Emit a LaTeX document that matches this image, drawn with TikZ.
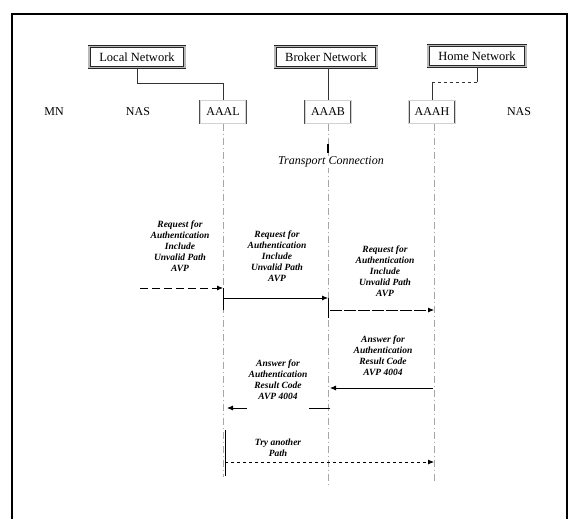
\documentclass[tikz,border=0pt]{standalone}
\usepackage{fontspec}
\setmainfont{Liberation Serif}
\usetikzlibrary{arrows.meta}
\begin{document}
\begin{tikzpicture}[x=1pt,y=-1pt,
  netbox/.style={draw=black!85, double=gray!55, double distance=1.8pt, line width=0.5pt,
     fill=white, inner xsep=10pt, minimum height=21pt, font=\fontsize{12.5}{14}\selectfont},
  aaabox/.style={draw=black!70, double=gray!35, double distance=1pt, line width=0.4pt,
     fill=white, minimum width=44pt, minimum height=23pt, inner xsep=6pt,
     font=\fontsize{12}{14}\selectfont},
  plain/.style={font=\fontsize{12}{14}\selectfont},
  life/.style={draw=gray!70, line width=0.8pt, dash pattern=on 7pt off 3pt on 1pt off 3pt},
  link/.style={draw=black!80, line width=0.6pt},
  msg/.style={font=\fontsize{9.5}{11}\selectfont\itshape\bfseries, align=center, fill=white, inner sep=1pt},
  arr/.style={line width=0.8pt, -{Latex[length=6pt,width=5pt]}},
]
\useasboundingbox (0,0) rectangle (568,519);
% frame
\draw[line width=1.6pt] (12,519) -- (12,14) -- (567,14) -- (567,519);

% headers
\node[netbox] (LN) at (137,57) {Local Network};
\node[netbox] (BN) at (326,57) {Broker Network};
\node[netbox] (HN) at (477,56) {Home Network};

\node[plain] (MN) at (54,112) {MN};
\node[plain] (NAS1) at (138,112) {NAS};
\node[aaabox] (AAAL) at (223,112) {AAAL};
\node[aaabox] (AAAB) at (328,112) {AAAB};
\node[aaabox] (AAAH) at (432,112) {AAAH};
\node[plain] (NAS2) at (519,112) {NAS};

% tree links
\coordinate (lk1) at (137,83);
\draw[link] (LN.south -| lk1) -- (lk1) -- (lk1 -| AAAL.north) -- (AAAL.north);
\draw[link] (BN.south -| AAAB.north) -- (AAAB.north);
\coordinate (lk3) at (477,82);
\draw[link] (HN.south -| lk3) -- (lk3);
\draw[link, dashed] (lk3) -- (lk3 -| AAAH.north);
\draw[link] (lk3 -| AAAH.north) -- (AAAH.north);

% lifelines
\coordinate (endL) at (223,477);
\coordinate (endB) at (328,487);
\coordinate (endH) at (434,483);
\draw[life] (AAAL.south) -- (endL);
\draw[life] (AAAB.south) -- (endB);
\draw[life] (AAAH.south -| endH) -- (endH);

% transport connection
\coordinate (tk1) at (328,144);
\coordinate (tk2) at (328,153);
\draw[line width=1.2pt] (tk1) -- (tk2);
\node[font=\fontsize{12}{14}\selectfont\itshape, fill=white, inner sep=1pt] (TC) at (331,162) {Transport Connection};

% message 1
\coordinate (m1s) at (140,288);
\node[msg] (t1) at (180,246) {Request for\\Authentication\\Include\\Unvalid Path\\AVP};
\draw[arr, dash pattern=on 8pt off 4pt] (m1s) -- (m1s -| AAAL);

% message 2
\coordinate (m2) at (223,298);
\node[msg] (t2) at (277,256) {Request for\\Authentication\\Include\\Unvalid Path\\AVP};
\draw[line width=1pt] (223,288) -- (223,310);
\draw[arr] (m2) -- (m2 -| AAAB);

% message 3
\coordinate (m3) at (330,310);
\node[msg] (t3) at (385,271) {Request for\\Authentication\\Include\\Unvalid Path\\AVP};
\draw[line width=1pt] (328,298) -- (328,318);
\draw[arr, dash pattern=on 12pt off 2pt] (m3) -- (m3 -| endH);

% message 4
\coordinate (m4) at (433,388);
\node[msg] (t4) at (383,356) {Answer for\\Authentication\\Result Code\\AVP 4004};
\draw[arr] (m4) -- ([xshift=2pt]m4 -| AAAB);

% message 5
\coordinate (m5) at (330,408);
\draw[arr] (m5) -- ([xshift=4pt]m5 -| AAAL);
\node[msg, inner xsep=2pt, inner ysep=2pt, anchor=north] (t5) at (278,358) {Answer for\\Authentication\\Result Code\\AVP 4004\\[-4pt]\strut};

% message 6
\coordinate (m6) at (225,462);
\node[msg] (t6) at (278,448) {Try another\\Path};
\draw[line width=1pt] (225,430) -- (225,476);
\draw[arr, dashed] (m6) -- (m6 -| endH);
\end{tikzpicture}
\end{document}
